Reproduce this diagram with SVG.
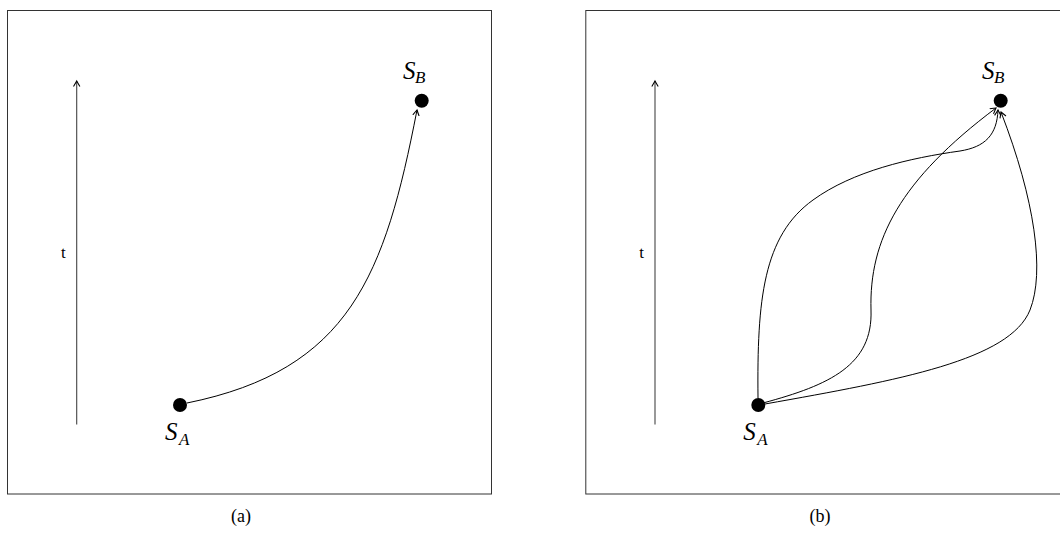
<svg xmlns="http://www.w3.org/2000/svg" width="1060" height="534" viewBox="0 0 1060 534">
<style>
.frame{fill:none;stroke:#333;stroke-width:1}
.axis{fill:none;stroke:#444;stroke-width:1.1;marker-end:url(#arr)}
.path{fill:none;stroke:#000;stroke-width:1;marker-end:url(#arr)}
.dot{fill:#000}
.lab{font-family:"Liberation Serif",serif;font-style:italic;fill:#000}
.txt{font-family:"Liberation Serif",serif;fill:#000}
</style>
<defs>
<marker id="arr" markerUnits="userSpaceOnUse" markerWidth="12" markerHeight="12" viewBox="-6 -6 12 12" refX="0" refY="0" orient="auto">
<path d="M -5.5 -3.2 Q -1.5 -0.8 0 0 Q -1.5 0.8 -5.5 3.2" fill="none" stroke="#000" stroke-width="1.1"/>
</marker>
</defs>
<g id="panel-a">
<rect class="frame" x="7.5" y="10.5" width="484" height="483.5"/>
<text class="txt" x="241" y="522" font-size="18" text-anchor="middle">(a)</text>
</g>
<g id="panel-b">
<rect class="frame" x="585.8" y="10.5" width="484" height="483.5"/>
<text class="txt" x="820" y="522" font-size="18" text-anchor="middle">(b)</text>
</g>
<g id="axis-a">
<line class="axis" x1="76.7" y1="424.5" x2="76.7" y2="81"/>
<text class="txt" x="63.3" y="258" font-size="17" text-anchor="middle">t</text>
</g>
<g id="axis-b">
<line class="axis" x1="655" y1="424.5" x2="655" y2="81"/>
<text class="txt" x="641.6" y="258" font-size="17" text-anchor="middle">t</text>
</g>
<g id="SA-a">
<circle class="dot" cx="180" cy="405" r="7"/>
<text class="lab" x="165" y="440" font-size="25">S</text>
<text class="lab" x="179" y="445" font-size="17">A</text>
</g>
<g id="SB-a">
<circle class="dot" cx="421.7" cy="100.7" r="7"/>
<text class="lab" x="403" y="79" font-size="25">S</text>
<text class="lab" x="415" y="83" font-size="17">B</text>
</g>
<g id="SA-b">
<circle class="dot" cx="758.3" cy="405" r="7"/>
<text class="lab" x="743.3" y="440" font-size="25">S</text>
<text class="lab" x="757.3" y="445" font-size="17">A</text>
</g>
<g id="SB-b">
<circle class="dot" cx="1000.7" cy="100.7" r="7"/>
<text class="lab" x="982" y="79" font-size="25">S</text>
<text class="lab" x="994" y="83" font-size="17">B</text>
</g>
<g id="connectors">
<path class="path" d="M 187 403 C 350 370, 385 275, 417 110"/>
<path class="path" d="M 758 398 C 757 300, 763 236, 813 200 C 853 171, 910 158, 960 151 C 985 147, 997 135, 998 110"/>
<path class="path" d="M 763 403 C 830 385, 873 365, 871 310 C 869 240, 900 180, 996 108"/>
<path class="path" d="M 765 404 C 900 380, 1010 360, 1030 310 C 1045 272, 1035 200, 1001 112"/>
</g>
</svg>
